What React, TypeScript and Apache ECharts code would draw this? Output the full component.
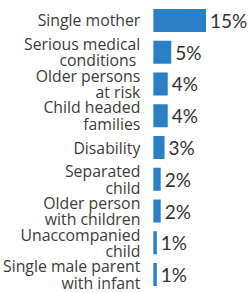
import React, { useEffect, useRef } from "react";
import * as echarts from "echarts";

const categories = [
  "Single mother",
  "Serious medical\nconditions ",
  "Older persons\nat risk",
  "Child headed\nfamilies",
  "Disability",
  "Separated\nchild",
  "Older person\nwith children",
  "Unaccompanied\nchild",
  "Single male parent\nwith infant",
];
const values = [15, 5.1, 4.1, 4.1, 3.2, 2.1, 2.1, 1.0, 1.0];
const valueLabels = ["15%", "5%", "4%", "4%", "3%", "2%", "2%", "1%", "1%"];

export default function App() {
  const ref = useRef<HTMLDivElement>(null);
  useEffect(() => {
    document.body.style.margin = "0";
    const chart = echarts.init(ref.current!, null, { renderer: "svg" });
    chart.setOption({
      animation: false,
      grid: { left: 150, right: 43, top: 4.6, bottom: 2.6, containLabel: false },
      xAxis: { type: "value", min: 0, max: 15, show: false },
      yAxis: {
        type: "category",
        inverse: true,
        data: categories,
        axisLine: { show: false },
        axisTick: { show: false },
        axisLabel: {
          interval: 0,
          fontFamily: "Open Sans",
          fontSize: 15.8,
          color: "#3c3c3c",
          margin: 13,
          lineHeight: 16.5,
          align: "right",
        },
      },
      series: [
        {
          type: "bar",
          data: values,
          barCategoryGap: "27.5%",
          itemStyle: { color: "#2b80c5" },
          label: {
            show: true,
            position: "right",
            distance: 4,
            fontFamily: "Lato",
            fontSize: 19,
            color: "#333333",
            formatter: (p: any) => valueLabels[p.dataIndex],
          },
        },
      ],
    });
    return () => chart.dispose();
  }, []);
  return <div ref={ref} style={{ width: 249, height: 293 }} />;
}
